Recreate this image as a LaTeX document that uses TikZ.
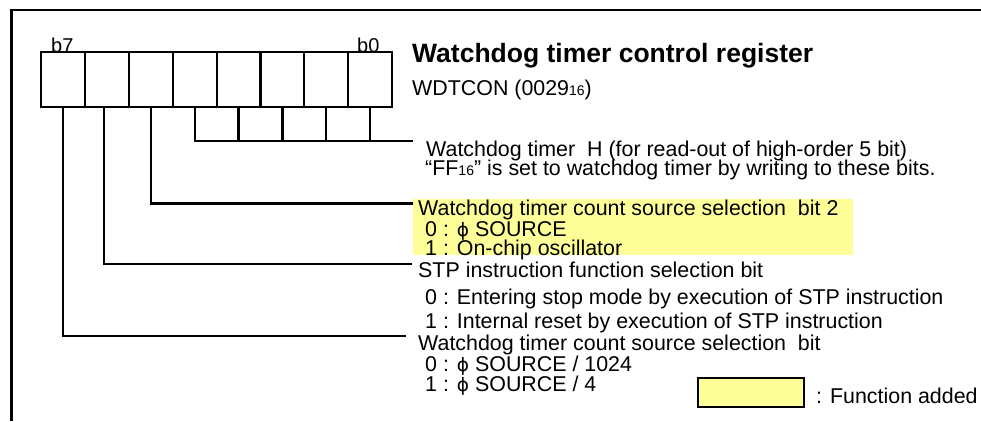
\documentclass[tikz,border=0pt]{standalone}
\usepackage{fontspec}
\setmainfont{Liberation Sans}
\newfontfamily\phifont{DejaVu Sans}
\newcommand{\phisym}{{\phifont\fontsize{18.5}{18.5}\selectfont ϕ}}
\definecolor{hl}{RGB}{255,255,153}
\begin{document}
\begin{tikzpicture}[x=1pt,y=-1pt,
  cell/.style={draw,line width=2.2pt,minimum width=43.84pt,minimum height=55.6pt,inner sep=0pt},
  lbl/.style={anchor=base west,inner sep=0pt,font=\fontsize{21.4}{21.4}\selectfont},
  bitlbl/.style={anchor=base west,inner sep=0pt,font=\fontsize{20}{20}\selectfont},
  conn/.style={line width=2.2pt},
  frameline/.style={line width=2.5pt},
  legbox/.style={draw,fill=hl,line width=2pt,minimum width=106pt,minimum height=29pt,inner sep=0pt}]
\useasboundingbox (0,0) rectangle (981,421);
% frame
\draw[frameline] (11.5,421) -- (11.5,10) -- (981,10);
% highlight
\fill[hl] (413,199) rectangle (853,255);
% register cells
\foreach \i in {0,...,7} \node[cell] (c\i) at ({41.3+43.84*(7-\i+0.5)},79.5) {};
\node[bitlbl] (lb7) at (51,52) {b7};
\node[bitlbl] (lb0) at (357,52) {b0};
% titles
\node[lbl,font=\bfseries\fontsize{26.5}{26.5}\selectfont] (title) at (412,62) {Watchdog timer control register};
\node[lbl] (reg) at (412,95) {WDTCON (0029{\fontsize{14}{14}\selectfont 16})};
% descriptions
\node[lbl] (tH1) at (426,156) {Watchdog timer\ \ H (for read-out of high-order 5 bit)};
\node[lbl] (tH2) at (425,175) {“FF{\fontsize{14}{14}\selectfont 16}” is set to watchdog timer by writing to these bits.};
\node[lbl] (s2a) at (418,215) {Watchdog timer count source selection\ \ bit 2};
\node[lbl] (s2b) at (425,236) {0 : \phisym\ SOURCE};
\node[lbl] (s2c) at (425,255) {1 : On-chip oscillator};
\node[lbl] (stp) at (418,277) {STP instruction function selection bit};
\node[lbl] (stp0) at (425,304) {0 : Entering stop mode by execution of STP instruction};
\node[lbl] (stp1) at (425,328) {1 : Internal reset by execution of STP instruction};
\node[lbl] (src) at (418,350) {Watchdog timer count source selection\ \ bit};
\node[lbl] (src0) at (425,371) {0 : \phisym\ SOURCE / 1024};
\node[lbl] (src1) at (425,391) {1 : \phisym\ SOURCE / 4};
% legend
\node[legbox] (leg) at (751,392.5) {};
\node[lbl] (legt) at (816,403) {: Function added};
% connectors
\coordinate (eH) at (413,141);
\coordinate (e5) at (413,203.5);
\coordinate (e6) at (412,264);
\coordinate (e7) at (406,336);
\draw[conn] (c4.south) |- (eH);
\foreach \i in {3,2,1,0} \draw[conn] (c\i.south) -- (c\i.south |- eH);
\draw[conn] (c5.south) |- (e5);
\draw[conn] ([xshift=-3pt]c6.south) |- (e6);
\draw[conn] (c7.south) |- (e7);
\end{tikzpicture}
\end{document}
